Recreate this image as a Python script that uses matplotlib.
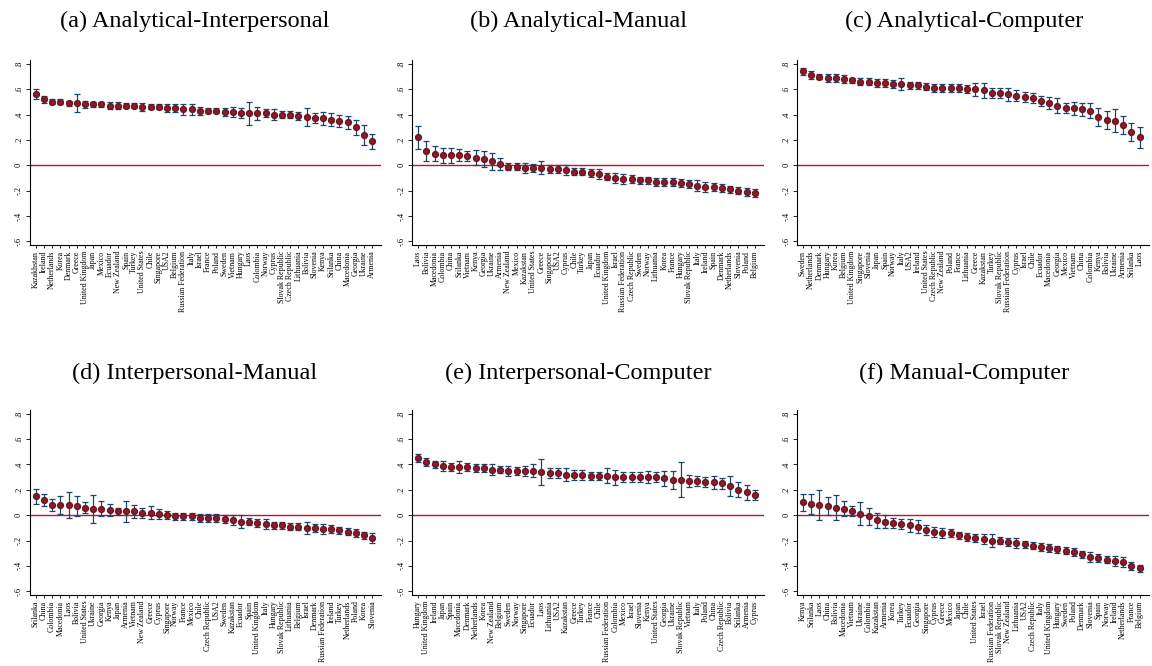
import matplotlib.pyplot as plt

plt.rcParams['font.family'] = ['Liberation Serif', 'DejaVu Serif']

# ==== Dados: países, estimativas e meia-largura dos IC ====
titles = ["(a) Analytical-Interpersonal", "(b) Analytical-Manual", "(c) Analytical-Computer",
          "(d) Interpersonal-Manual", "(e) Interpersonal-Computer", "(f) Manual-Computer"]

countries_a = ["Kazakhstan", "Ireland", "Netherlands", "Korea", "Denmark", "Greece", "United Kingdom",
               "Japan", "Mexico", "Ecuador", "New Zealand", "Spain", "Turkey", "United States", "Chile",
               "Singapore", "USA2", "Belgium", "Russian Federation", "Italy", "Israel", "France", "Poland",
               "Sweden", "Vietnam", "Hungary", "Laos", "Colombia", "Norway", "Cyprus", "Slovak Republic",
               "Czech Republic", "Lithuania", "Bolivia", "Slovenia", "Kenya", "Srilanka", "China",
               "Macedonia", "Georgia", "Ukraine", "Armenia"]
values_a = [0.56, 0.52, 0.50, 0.50, 0.49, 0.49, 0.48, 0.48, 0.48, 0.47, 0.47, 0.47, 0.47, 0.46, 0.46,
            0.46, 0.45, 0.45, 0.44, 0.44, 0.43, 0.43, 0.43, 0.42, 0.42, 0.41, 0.41, 0.41, 0.41, 0.40,
            0.40, 0.40, 0.39, 0.38, 0.37, 0.37, 0.36, 0.35, 0.34, 0.30, 0.24, 0.19]
ci_a = [.04, .03, .02, .02, .02, .07, .03, .02, .02, .03, .03, .02, .02, .03, .02, .02, .03, .03, .04, .04,
        .03, .02, .02, .03, .04, .04, .09, .05, .03, .04, .03, .03, .03, .07, .04, .05, .05, .05, .05,
        .06, .08, .06]

countries_b = ["Laos", "Bolivia", "Macedonia", "Colombia", "China", "Srilanka", "Vietnam", "Kenya",
               "Georgia", "Ukraine", "Armenia", "New Zealand", "Mexico", "Kazakstan", "United States",
               "Greece", "Singapore", "USA2", "Cyprus", "Chile", "Turkey", "Japan", "Ecuador",
               "United Kingdom", "Israel", "Russian Federation", "Czech Republic", "Sweden", "Norway",
               "Lithuania", "Korea", "France", "Hungary", "Slovak Republic", "Italy", "Ireland", "Spain",
               "Denmark", "Netherlands", "Slovenia", "Poland", "Belgium"]
values_b = [0.22, 0.11, 0.09, 0.08, 0.08, 0.08, 0.07, 0.06, 0.05, 0.03, 0.01, -0.01, -0.01, -0.02, -0.02,
            -0.02, -0.03, -0.03, -0.04, -0.05, -0.05, -0.06, -0.07, -0.09, -0.10, -0.11, -0.11, -0.12,
            -0.12, -0.13, -0.13, -0.13, -0.14, -0.15, -0.16, -0.17, -0.17, -0.18, -0.19, -0.20, -0.21,
            -0.22]
ci_b = [.09, .08, .06, .06, .06, .05, .04, .06, .06, .07, .05, .03, .03, .04, .03, .05, .03, .03, .04, .03,
        .03, .03, .04, .03, .04, .04, .03, .03, .03, .03, .03, .03, .03, .03, .04, .04, .03, .03, .03,
        .03, .03, .03]

countries_c = ["Sweden", "Netherlands", "Denmark", "Hungary", "Korea", "Belgium", "United Kingdom",
               "Singapore", "Slovenia", "Japan", "Spain", "Norway", "Italy", "USA2", "Ireland",
               "United States", "Czech Republic", "New Zealand", "Poland", "France", "Lithuania", "Greece",
               "Kazakstan", "Turkey", "Slovak Republic", "Russian Federation", "Cyprus", "Israel", "Chile",
               "Ecuador", "Macedonia", "Georgia", "Mexico", "Vietnam", "China", "Colombia", "Kenya",
               "Bolivia", "Ukraine", "Armenia", "Srilanka", "Laos"]
values_c = [0.74, 0.71, 0.70, 0.69, 0.69, 0.68, 0.67, 0.66, 0.66, 0.65, 0.65, 0.64, 0.64, 0.63, 0.63,
            0.62, 0.61, 0.61, 0.61, 0.61, 0.60, 0.60, 0.59, 0.57, 0.57, 0.56, 0.55, 0.54, 0.53, 0.51,
            0.49, 0.47, 0.45, 0.45, 0.44, 0.43, 0.38, 0.36, 0.35, 0.32, 0.26, 0.22]
ci_c = [.03, .03, .02, .03, .03, .03, .02, .03, .03, .03, .03, .03, .05, .03, .03, .03, .03, .03, .03, .03,
        .03, .05, .06, .04, .04, .05, .04, .04, .04, .04, .05, .06, .04, .05, .05, .06, .07, .07, .09,
        .07, .07, .08]

countries_d = ["Srilanka", "China", "Colombia", "Macedonia", "Laos", "Bolivia", "United States",
               "Ukraine", "Georgia", "Kenya", "Japan", "Armenia", "Vietnam", "New Zealand", "Greece",
               "Cyprus", "Singapore", "Norway", "France", "Mexico", "Chile", "Czech Republic", "USA2",
               "Sweden", "Kazakstan", "Ecuador", "Spain", "United Kingdom", "Italy", "Hungary",
               "Slovak Republic", "Lithuania", "Belgium", "Israel", "Denmark", "Russian Federation",
               "Ireland", "Turkey", "Netherlands", "Poland", "Korea", "Slovenia"]
values_d = [0.15, 0.12, 0.08, 0.08, 0.08, 0.07, 0.06, 0.05, 0.05, 0.04, 0.03, 0.03, 0.03, 0.02, 0.02,
            0.01, 0.00, -0.01, -0.01, -0.01, -0.02, -0.02, -0.02, -0.03, -0.04, -0.05, -0.05, -0.06,
            -0.07, -0.08, -0.08, -0.09, -0.09, -0.10, -0.10, -0.11, -0.11, -0.12, -0.13, -0.14, -0.16,
            -0.18]
ci_d = [.06, .05, .05, .07, .10, .08, .04, .11, .06, .05, .03, .08, .05, .04, .05, .04, .03, .03, .03, .03,
        .03, .03, .03, .03, .04, .05, .03, .03, .04, .03, .03, .03, .03, .05, .03, .04, .03, .03, .03,
        .03, .03, .04]

countries_e = ["Hungary", "United Kingdom", "Ireland", "Japan", "Spain", "Macedonia", "Denmark",
               "Netherlands", "Korea", "New Zealand", "Belgium", "Sweden", "Norway", "Singapore",
               "Ecuador", "Laos", "Lithuania", "USA2", "Kazakstan", "Greece", "Turkey", "France", "Chile",
               "Russian Federation", "Colombia", "Mexico", "Israel", "Slovenia", "Kenya", "United States",
               "Georgia", "Ukraine", "Slovak Republic", "Vietnam", "Italy", "Poland", "China",
               "Czech Republic", "Bolivia", "Srilanka", "Armenia", "Cyprus"]
values_e = [0.45, 0.42, 0.40, 0.39, 0.38, 0.38, 0.38, 0.37, 0.37, 0.36, 0.36, 0.35, 0.35, 0.35, 0.35,
            0.34, 0.33, 0.33, 0.32, 0.32, 0.32, 0.31, 0.31, 0.31, 0.30, 0.30, 0.30, 0.30, 0.30, 0.30,
            0.29, 0.28, 0.28, 0.27, 0.27, 0.26, 0.26, 0.25, 0.23, 0.20, 0.18, 0.16]
ci_e = [.03, .03, .03, .04, .03, .05, .03, .03, .03, .04, .03, .04, .03, .04, .05, .10, .04, .04, .05, .04,
        .04, .03, .03, .06, .06, .04, .04, .04, .05, .04, .06, .07, .14, .05, .04, .04, .05, .04, .08,
        .06, .06, .04]

countries_f = ["Kenya", "Srilanka", "Laos", "China", "Bolivia", "Macedonia", "Vietnam", "Ukraine",
               "Colombia", "Kazakstan", "Armenia", "Korea", "Turkey", "Ecuador", "Georgia", "Singapore",
               "Cyprus", "Greece", "Mexico", "Japan", "Chile", "United States", "Israel",
               "Russian Federation", "Slovak Republic", "New Zealand", "Lithuania", "USA2",
               "Czech Republic", "Italy", "United Kingdom", "Hungary", "Sweden", "Poland", "Denmark",
               "Slovenia", "Spain", "Norway", "Ireland", "Netherlands", "France", "Belgium"]
values_f = [0.10, 0.09, 0.08, 0.07, 0.06, 0.05, 0.03, 0.01, -0.01, -0.04, -0.05, -0.06, -0.07, -0.08,
            -0.09, -0.12, -0.13, -0.14, -0.14, -0.16, -0.17, -0.18, -0.19, -0.20, -0.20, -0.21, -0.22,
            -0.23, -0.24, -0.25, -0.26, -0.27, -0.28, -0.29, -0.31, -0.33, -0.34, -0.35, -0.36, -0.37,
            -0.40, -0.42]
ci_f = [.07, .08, .12, .07, .10, .06, .04, .09, .07, .06, .05, .04, .04, .05, .05, .04, .04, .04, .03, .03,
        .03, .03, .04, .05, .03, .03, .04, .03, .03, .03, .03, .03, .03, .03, .03, .04, .03, .03, .04,
        .04, .03, .03]

paineis = [(countries_a, values_a, ci_a), (countries_b, values_b, ci_b), (countries_c, values_c, ci_c),
           (countries_d, values_d, ci_d), (countries_e, values_e, ci_e), (countries_f, values_f, ci_f)]

yticks = [0.8, 0.6, 0.4, 0.2, 0.0, -0.2, -0.4, -0.6]
ytick_labels = [".8", ".6", ".4", ".2", "0", "-.2", "-.4", "-.6"]

# ==== Figura ====
fig = plt.figure(figsize=(11.52, 6.66), dpi=100)
lefts = [0.026, 0.358, 0.692]
bottoms = [0.632, 0.1066]
title_x = [0.169, 0.502, 0.837]
title_y = [0.968, 0.440]

for i, (nomes, vals, ci) in enumerate(paineis):
    ax = fig.add_axes([lefts[i % 3], bottoms[i // 3], 0.305, 0.2778])
    x = range(len(nomes))
    ax.axhline(0, color="#c8102e", lw=1.0, zorder=1)
    ax.errorbar(x, vals, yerr=ci, fmt="o", color="#8b1a2b", ms=4.2, mec="#6e1520",
                ecolor="#1a476f", elinewidth=0.9, capsize=2.2, capthick=0.9, zorder=3)
    ax.set_xlim(-0.7, len(nomes) + 0.1)
    ax.set_ylim(-0.63, 0.83)
    ax.set_xticks(list(x))
    ax.set_xticklabels(nomes, rotation=90, fontsize=5.7)
    ax.set_yticks(yticks)
    ax.set_yticklabels(ytick_labels, rotation=90, fontsize=6, va="center")
    ax.tick_params(axis="x", length=2.5, width=0.6, pad=1.5)
    ax.tick_params(axis="y", length=3, width=0.6, pad=2)
    ax.spines["top"].set_visible(False)
    ax.spines["right"].set_visible(False)
    ax.spines["left"].set_linewidth(0.8)
    ax.spines["bottom"].set_linewidth(0.8)
    fig.text(title_x[i % 3], title_y[i // 3], titles[i], fontsize=17.5, ha="center", va="center")

fig.savefig("out.png", dpi=100)
